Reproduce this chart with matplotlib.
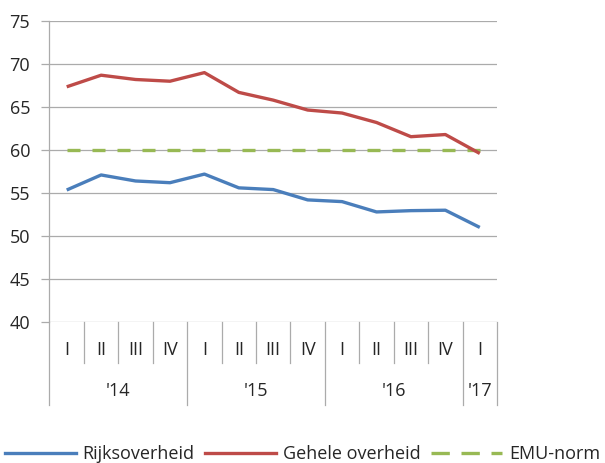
import numpy as np
import matplotlib.pyplot as plt
from matplotlib.lines import Line2D

plt.rcParams['font.family'] = ['Open Sans', 'DejaVu Sans']

quarters = ['I', 'II', 'III', 'IV', 'I', 'II', 'III', 'IV', 'I', 'II', 'III', 'IV', 'I']
years = ["'14", "'15", "'16", "'17"]
quarters_per_year = [4, 4, 4, 1]
rijksoverheid = [55.35, 57.1, 56.4, 56.2, 57.2, 55.6, 55.4, 54.2, 54.0, 52.8, 52.95, 53.0, 51.0]
gehele_overheid = [67.35, 68.7, 68.2, 68.0, 69.0, 66.7, 65.8, 64.65, 64.3, 63.2, 61.55, 61.8, 59.6]
emu_norm = [60] * len(quarters)

blue = '#4a7ebb'
red = '#be4b48'
green = '#98b954'
grid_c = '#ababab'
text_c = '#262626'
fs = 13

fig = plt.figure(figsize=(6.05, 4.63), dpi=100)
ax = fig.add_axes((0.0818, 0.3045, 0.7397, 0.6501))

x = np.arange(len(quarters))
ax.plot(x, rijksoverheid, color=blue, lw=2.4, solid_capstyle='butt', zorder=3)
ax.plot(x, gehele_overheid, color=red, lw=2.4, solid_capstyle='butt', zorder=3)
ax.plot(x, emu_norm, color=green, lw=2.4, dashes=(3.9, 3.6), zorder=2)

ax.set_xlim(-0.5, len(quarters) - 0.5)
ax.set_ylim(40, 75)
ax.set_yticks(range(40, 76, 5))
ax.yaxis.grid(True, color=grid_c, lw=0.9)
ax.set_axisbelow(True)
ax.tick_params(axis='y', length=6, width=0.9, color=grid_c, labelsize=fs,
               labelcolor=text_c, pad=8)
ax.set_xticks([])
for s in ['top', 'right', 'bottom']:
    ax.spines[s].set_visible(False)
ax.spines['left'].set_color(grid_c)
ax.spines['left'].set_linewidth(0.9)

# two-level category axis
trans = ax.get_xaxis_transform()
year_edges = np.concatenate([[0], np.cumsum(quarters_per_year)]) - 0.5
for i in range(len(quarters) + 1):
    edge = i - 0.5
    bottom = -0.276 if np.isclose(year_edges, edge).any() else -0.136
    ax.plot([edge, edge], [0, bottom], transform=trans, color=grid_c, lw=0.9,
            clip_on=False)
for xi, q in zip(x, quarters):
    ax.text(xi, -0.093, q, transform=trans, ha='center', va='center',
            fontsize=fs, color=text_c)
for i, yr in enumerate(years):
    mid = (year_edges[i] + year_edges[i + 1]) / 2
    ax.text(mid, -0.229, yr, transform=trans, ha='center', va='center',
            fontsize=fs, color=text_c)

handles = [
    Line2D([], [], color=blue, lw=2.4),
    Line2D([], [], color=red, lw=2.4),
    Line2D([], [], color=green, lw=2.4, dashes=(5.5, 3.5)),
]
fig.legend(handles, ['Rijksoverheid', 'Gehele overheid', 'EMU-norm'],
           loc='center', bbox_to_anchor=(0.5, 1 - 454 / 463), ncol=3,
           frameon=False, fontsize=fs, labelcolor=text_c,
           handlelength=3.9, handletextpad=0.39, columnspacing=0.6,
           borderaxespad=0, borderpad=0)

fig.savefig('out.png', dpi=100)
